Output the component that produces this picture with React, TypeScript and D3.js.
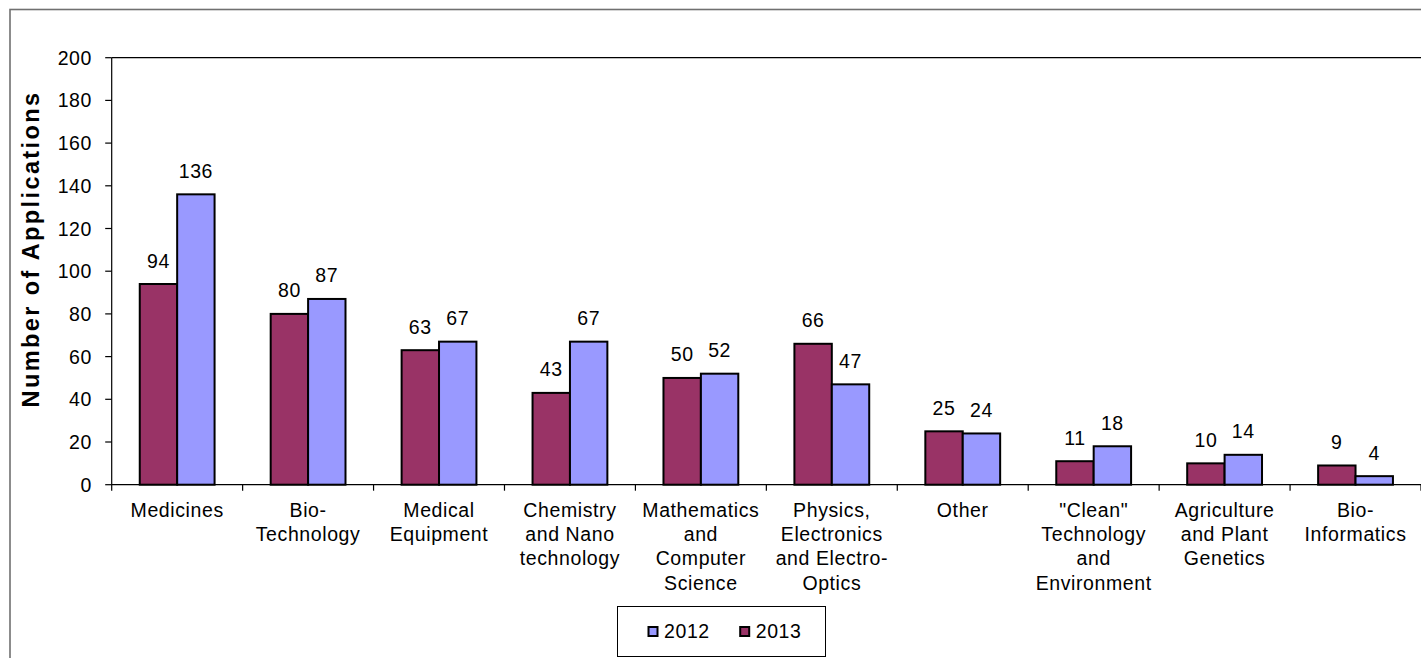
import React from "react";
import * as d3 from "d3";

const categories: string[][] = [
  ["Medicines"],
  ["Bio-", "Technology"],
  ["Medical", "Equipment"],
  ["Chemistry", "and Nano", "technology"],
  ["Mathematics", "and", "Computer", "Science"],
  ["Physics,", "Electronics", "and Electro-", "Optics"],
  ["Other"],
  ['"Clean"', "Technology", "and", "Environment"],
  ["Agriculture", "and Plant", "Genetics"],
  ["Bio-", "Informatics"],
];
const values2013 = [94, 80, 63, 43, 50, 66, 25, 11, 10, 9];
const values2012 = [136, 87, 67, 67, 52, 47, 24, 18, 14, 4];
const yTicks = [0, 20, 40, 60, 80, 100, 120, 140, 160, 180, 200];
const seriesNames = ["2013", "2012"];
const legendOrder = ["2012", "2013"];

const W = 1421;
const H = 658;
const FONT = "'Liberation Sans', Arial, sans-serif";
const colors: Record<string, string> = { "2013": "#993366", "2012": "#9999FF" };

export default function App() {
  const left = 111.7;
  const right = 1421;
  const top = 57.7;
  const bottom = 484.7;
  const keys = categories.map((c) => c.join(" "));
  const x = d3.scaleBand<string>().domain(keys).range([left, right]).padding(0);
  const xs = d3
    .scaleBand<string>()
    .domain(seriesNames)
    .range([0, x.bandwidth()])
    .paddingInner(0)
    .paddingOuter(0.75);
  const y = d3.scaleLinear().domain([0, 200]).range([bottom, top]);
  const series: Record<string, number[]> = { "2013": values2013, "2012": values2012 };
  const textStyle = { fontFamily: FONT, fontSize: 19.5, letterSpacing: 0.6 } as const;

  return (
    <svg
      width={W}
      height={H}
      style={{ position: "absolute", left: 0, top: 0, background: "#fff" }}
    >
      <rect x={0} y={0} width={W} height={H} fill="#fff" />
      {/* chart frame */}
      <rect x={10} y={9.5} width={W + 20} height={H + 20} fill="none" stroke="#707070" strokeWidth={1.6} />
      {/* plot area top edge */}
      <line x1={left} x2={right} y1={top} y2={top} stroke="#000" strokeWidth={1.2} />

      {/* y axis */}
      <line x1={left} x2={left} y1={top} y2={bottom + 6} stroke="#000" strokeWidth={1.2} />
      {yTicks.map((t) => (
        <g key={t}>
          <line x1={left - 6.5} x2={left} y1={y(t)} y2={y(t)} stroke="#000" strokeWidth={1.2} />
          <text x={92} y={y(t)} dy="0.36em" textAnchor="end" {...textStyle}>
            {t}
          </text>
        </g>
      ))}
      <text
        transform={`translate(31,249) rotate(-90)`}
        textAnchor="middle"
        dy="0.36em"
        fontFamily={FONT}
        fontSize={23.5}
        fontWeight="bold"
        letterSpacing={2.4}
      >
        Number of Applications
      </text>

      {/* bars */}
      {keys.map((k, i) => (
        <g key={k} transform={`translate(${x(k)},0)`}>
          {seriesNames.map((s) => {
            const v = series[s][i];
            const bx = xs(s)!;
            const bw = xs.bandwidth();
            return (
              <g key={s}>
                <rect
                  x={bx}
                  y={y(v)}
                  width={bw}
                  height={bottom - y(v)}
                  fill={colors[s]}
                  stroke="#000"
                  strokeWidth={2}
                />
                <text x={bx + bw / 2} y={y(v) - 16.5} textAnchor="middle" {...textStyle}>
                  {v}
                </text>
              </g>
            );
          })}
        </g>
      ))}

      {/* x axis */}
      <line x1={left} x2={right} y1={bottom} y2={bottom} stroke="#000" strokeWidth={1.2} />
      {keys.map((k) => (
        <line
          key={k}
          x1={x(k)! + x.bandwidth()}
          x2={x(k)! + x.bandwidth()}
          y1={bottom}
          y2={bottom + 6}
          stroke="#000"
          strokeWidth={1.2}
        />
      ))}
      {categories.map((lines, i) => (
        <text
          key={keys[i]}
          x={x(keys[i])! + x.bandwidth() / 2}
          y={517}
          textAnchor="middle"
          {...textStyle}
        >
          {lines.map((ln, j) => (
            <tspan key={j} x={x(keys[i])! + x.bandwidth() / 2} dy={j === 0 ? 0 : 24.2}>
              {ln}
            </tspan>
          ))}
        </text>
      ))}

      {/* legend */}
      <rect x={617.5} y={606.5} width={208} height={50} fill="#fff" stroke="#000" strokeWidth={1} />
      {legendOrder.map((s, i) => {
        const lx = 648.5 + i * 91.7;
        return (
          <g key={s}>
            <rect x={lx} y={627} width={9} height={9} fill={colors[s]} stroke="#000" strokeWidth={2} />
            <text x={lx + 15.5} y={637.5} {...textStyle}>
              {s}
            </text>
          </g>
        );
      })}
    </svg>
  );
}
